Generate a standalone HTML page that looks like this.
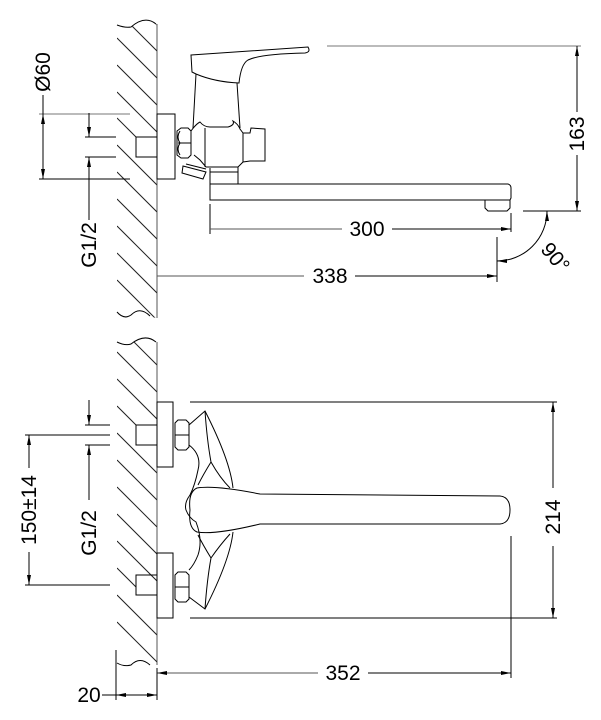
<!DOCTYPE html>
<html><head><style>
html,body{margin:0;padding:0;background:#fff;}
svg{display:block;}
text{font-family:"Liberation Sans",Arial,sans-serif;font-size:21px;fill:#000;}
</style></head><body>
<svg width="601" height="720" viewBox="0 0 601 720" xmlns="http://www.w3.org/2000/svg">
<defs>
<marker id="a" viewBox="0 0 10 4" refX="10" refY="2" markerWidth="10" markerHeight="4" orient="auto-start-reverse" markerUnits="userSpaceOnUse"><path d="M0,0L10,2L0,4z" fill="#000"/></marker>
<clipPath id="w1"><path d="M117,25 Q125,28 131,27 Q145,15 157,25 L157,318 L145,316 Q130,306 117,318 Z"/></clipPath>
<clipPath id="w2"><path d="M117,342 Q125,346 131,344 Q145,333 157,342 L157,665 L145,663 Q130,655 117,665 Z"/></clipPath>
</defs>
<g fill="none" stroke="#000" stroke-width="1">
<line x1="157" y1="24" x2="157" y2="318" stroke="#555"/>
<path d="M117,25 Q125,28 131,27 Q145,15 156,24"/>
<path d="M117,312 Q124,320 131,315 Q140,306 150,316"/>
<g clip-path="url(#w1)" stroke="#222">
<line x1="117" y1="-15" x2="157" y2="25"/><line x1="117" y1="11" x2="157" y2="51"/>
<line x1="117" y1="38" x2="157" y2="78"/><line x1="117" y1="65" x2="157" y2="105"/>
<line x1="117" y1="92" x2="157" y2="132"/><line x1="117" y1="118" x2="136" y2="137"/>
<line x1="117" y1="145" x2="157" y2="185"/><line x1="117" y1="172" x2="157" y2="212"/>
<line x1="117" y1="199" x2="157" y2="239"/><line x1="117" y1="226" x2="157" y2="266"/>
<line x1="117" y1="253" x2="157" y2="293"/><line x1="117" y1="280" x2="157" y2="320"/>
</g>
<rect x="157" y="114" width="18" height="65"/>
<rect x="136" y="137" width="21" height="20"/>
<path d="M177,131 L181,128 L188,128 L191,131 L191,155 L188,158 L181,158 L177,155 Z"/>
<path d="M178,143 L191,143 M180,131 Q176,137 180,143 Q176,149 180,155"/>
<path d="M183,166 L206,172 L203,179 L182,173 Z M186,164 L206,169"/>
<path d="M191,55 L308,47 Q311,52 305,53 Q260,54 248,60 Q241,64 239,83 Q215,82 196,74 L192,72 Z"/>
<path d="M196,74 L193,128 M237,83 L240,128"/>
<path d="M191,131 Q196,124 200,122 Q204,127 210,127 L228,127 Q235,125 233,121 Q238,124 240,129 L243,133 L243,162 L238,167 L206,167 L200,160 L194,155"/>
<path d="M205,128 L205,167"/>
<path d="M243,133 L250,133 L251,128 L265,129 L265,161 L250,161 L243,162"/>
<path d="M210,168 L210,184 L238,184 L238,167 M210,172 L238,172"/>
<path d="M238,184 L508,184 Q511,185 511,188 L511,198 L510,200 L210,200 L210,182"/>
<path d="M485,200 L485,208 L488,211 L507,211 L510,208 L510,200"/>
<line x1="327" y1="46" x2="581" y2="46" stroke="#777"/>
<line x1="523" y1="211" x2="581" y2="211"/>
<line x1="577" y1="46" x2="577" y2="112" marker-start="url(#a)"/>
<line x1="577" y1="155" x2="577" y2="211" marker-end="url(#a)"/>
<line x1="210" y1="204" x2="210" y2="234"/>
<line x1="511" y1="213" x2="511" y2="232"/>
<line x1="210" y1="229" x2="342" y2="229" stroke="#555"/>
<line x1="392" y1="229" x2="511" y2="229" marker-end="url(#a)"/>
<line x1="497" y1="237" x2="497" y2="282"/>
<line x1="157" y1="276" x2="304" y2="276" stroke="#555"/>
<line x1="355" y1="276" x2="497" y2="276" marker-end="url(#a)"/>
<path d="M547,211 A50,50 0 0 1 497,261" marker-start="url(#a)" marker-end="url(#a)"/>
<line x1="39" y1="114" x2="130" y2="114" stroke="#777"/>
<line x1="39" y1="179" x2="130" y2="179"/>
<line x1="43" y1="95" x2="43" y2="114"/>
<line x1="43" y1="114" x2="43" y2="179" marker-start="url(#a)" marker-end="url(#a)"/>
<line x1="85" y1="137" x2="116" y2="137"/>
<line x1="85" y1="157" x2="116" y2="157"/>
<line x1="89" y1="113" x2="89" y2="137" marker-end="url(#a)"/>
<line x1="89" y1="157" x2="89" y2="220" marker-start="url(#a)"/>
<line x1="157" y1="342" x2="157" y2="665" stroke="#555"/>
<path d="M117,342 Q125,346 131,344 Q145,333 156,342"/>
<path d="M117,663 Q124,667 131,665 Q140,656 150,665"/>
<g clip-path="url(#w2)" stroke="#222">
<line x1="117" y1="325" x2="157" y2="365"/><line x1="117" y1="352" x2="157" y2="392"/>
<line x1="117" y1="379" x2="157" y2="419"/><line x1="117" y1="406" x2="136" y2="425"/>
<line x1="117" y1="433" x2="157" y2="473"/><line x1="117" y1="460" x2="157" y2="500"/>
<line x1="117" y1="487" x2="157" y2="527"/><line x1="117" y1="514" x2="157" y2="554"/>
<line x1="117" y1="541" x2="157" y2="581"/><line x1="117" y1="568" x2="136" y2="587"/>
<line x1="117" y1="595" x2="157" y2="635"/><line x1="117" y1="622" x2="157" y2="662"/>
</g>
<rect x="157" y="402" width="16" height="65"/>
<rect x="157" y="553" width="16" height="65"/>
<rect x="136" y="425" width="21" height="20"/>
<rect x="136" y="575" width="21" height="20"/>
<path d="M175,423 L178,420 L186,420 L189,423 L189,447 L186,450 L178,450 L175,447 Z M175,435 L189,435"/>
<path d="M175,575 L178,572 L186,572 L189,575 L189,599 L186,602 L178,602 L175,599 Z M175,587 L189,587"/>
<path d="M189,425 L205,411 Q230,460 233,488 M189,445 Q202,455 198,470 Q195,485 190,495 Q184,503 186,510 Q189,518 196,522 Q203,540 198,555 Q194,565 189,570 M189,597 L205,609 Q230,560 233,532"/>
<path d="M205,411 Q207,440 211,462 Q220,478 230,488 M211,462 Q203,475 198,485 M205,609 Q207,580 211,558 Q220,545 230,534 M211,558 Q203,545 198,535"/>
<path d="M197,488 Q215,485 260,494 L500,496 Q510,497 510,510 Q510,523 500,524 L260,524 Q215,535 197,532 Q188,528 190,510 Q188,492 197,488 Z"/>
<line x1="190" y1="402" x2="557" y2="402"/>
<line x1="190" y1="618" x2="557" y2="618"/>
<line x1="553" y1="402" x2="553" y2="488" marker-start="url(#a)"/>
<line x1="553" y1="546" x2="553" y2="618" marker-end="url(#a)"/>
<line x1="511" y1="536" x2="511" y2="678"/>
<line x1="157" y1="673" x2="318" y2="673" marker-start="url(#a)" stroke="#555"/>
<line x1="368" y1="673" x2="511" y2="673" marker-end="url(#a)"/>
<line x1="116" y1="650" x2="116" y2="700"/>
<line x1="157" y1="668" x2="157" y2="700"/>
<line x1="102" y1="695" x2="116" y2="695"/>
<line x1="116" y1="695" x2="157" y2="695" marker-start="url(#a)" marker-end="url(#a)"/>
<line x1="25" y1="435" x2="110" y2="435"/>
<line x1="25" y1="585" x2="110" y2="585"/>
<line x1="29" y1="435" x2="29" y2="468" marker-start="url(#a)"/>
<line x1="29" y1="552" x2="29" y2="585" marker-end="url(#a)"/>
<line x1="85" y1="425" x2="110" y2="425"/>
<line x1="85" y1="445" x2="110" y2="445"/>
<line x1="89" y1="400" x2="89" y2="425" marker-end="url(#a)"/>
<line x1="89" y1="445" x2="89" y2="500" marker-start="url(#a)"/>
</g>
<text transform="translate(584,134) rotate(-90)" text-anchor="middle">163</text>
<text x="367" y="236" text-anchor="middle">300</text>
<text x="330" y="283" text-anchor="middle">338</text>
<text transform="translate(550,262) rotate(50)" text-anchor="middle">90°</text>
<text transform="translate(50,72) rotate(-90)" text-anchor="middle">Ø60</text>
<text transform="translate(96,245) rotate(-90)" text-anchor="middle">G1/2</text>
<text transform="translate(560,517) rotate(-90)" text-anchor="middle">214</text>
<text x="343" y="680" text-anchor="middle">352</text>
<text x="89" y="702" text-anchor="middle">20</text>
<text transform="translate(36,510) rotate(-90)" text-anchor="middle">150±14</text>
<text transform="translate(96,533) rotate(-90)" text-anchor="middle">G1/2</text>
</svg>
</body></html>
